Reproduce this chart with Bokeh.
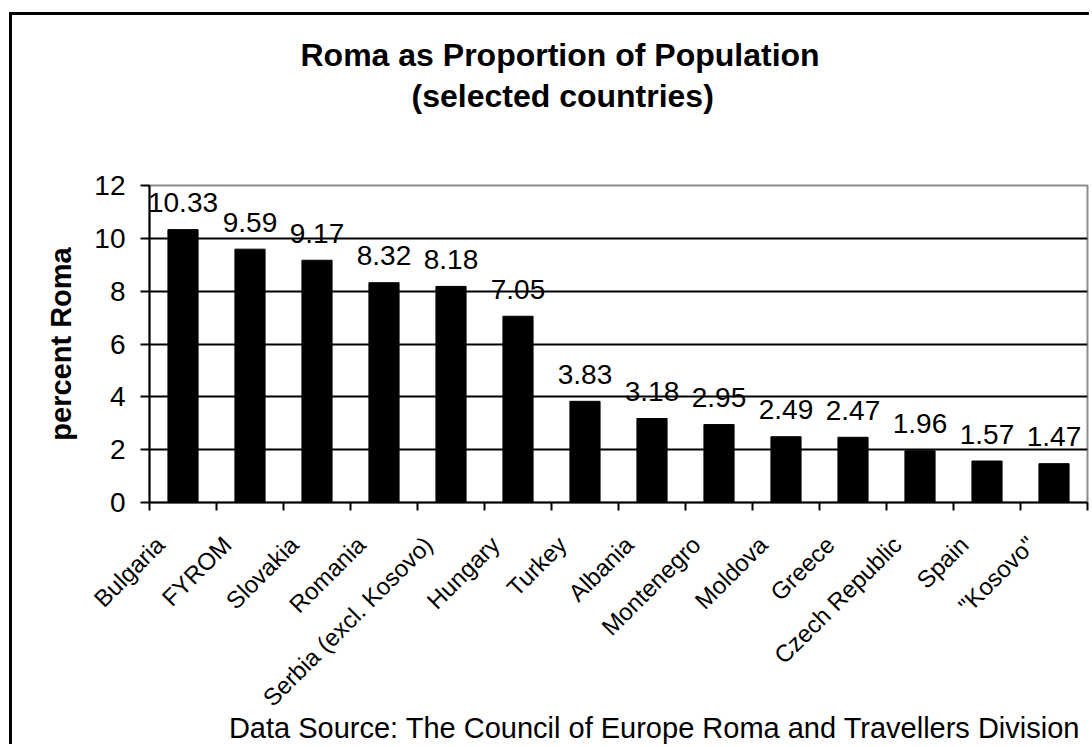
import numpy as np
from bokeh.plotting import figure
from bokeh.models import Range1d, FixedTicker, ColumnDataSource, Title
from bokeh.core.properties import value
from bokeh.embed import file_html
from bokeh.resources import INLINE

# ---- data ----
countries = ["Bulgaria", "FYROM", "Slovakia", "Romania", "Serbia (excl. Kosovo)",
             "Hungary", "Turkey", "Albania", "Montenegro", "Moldova", "Greece",
             "Czech Republic", "Spain", '"Kosovo"']
percent_roma = [10.33, 9.59, 9.17, 8.32, 8.18, 7.05, 3.83, 3.18, 2.95, 2.49, 2.47,
                1.96, 1.57, 1.47]
y_ticks = [0, 2, 4, 6, 8, 10, 12]
title_lines = ["Roma as Proportion of Population", "(selected countries)"]
y_label = "percent Roma"
source_note = "Data Source: The Council of Europe Roma and Travellers Division"

FONT = "Liberation Sans"

n = len(countries)
pos = list(range(1, n + 1))
bounds = [i - 0.5 for i in pos] + [n + 0.5]
label_shift = 0.34          # Excel-style rotated labels sit left of the bar centre
label_pos = [round(i - label_shift, 3) for i in pos]
src = ColumnDataSource(dict(x=pos, top=percent_roma,
                            label=[f"{v:.2f}" for v in percent_roma]))

p = figure(width=1080, height=732,
           x_range=Range1d(0.5, n + 0.5),
           y_range=Range1d(y_ticks[0], y_ticks[-1]),
           output_backend="svg", toolbar_location=None,
           min_border_left=137, min_border_right=5,
           min_border_top=170, min_border_bottom=245)

# outer chart border (left/top visible in the reference)
p.styles = {"margin-left": "9px", "margin-top": "12px",
            "border-left": "3px solid black", "border-top": "3px solid black"}

p.background_fill_color = "white"
p.border_fill_color = "white"
p.outline_line_color = "#8c8c8c"
p.outline_line_width = 2

# bars
p.vbar(x="x", top="top", width=0.45, source=src, color="black")

# value labels
p.text(x="x", y="top", text="label", source=src, text_align="center",
       text_baseline="alphabetic", y_offset=-27, text_color="black",
       text_font=value(FONT), text_font_size="28px")

# x axis
xa = p.xaxis[0]
xa.ticker = FixedTicker(ticks=label_pos, minor_ticks=bounds)
xa.major_label_overrides = {lp: c for lp, c in zip(label_pos, countries)}
xa.major_label_orientation = np.pi / 4
xa.major_tick_line_color = None
xa.major_tick_out = 0
xa.major_tick_in = 0
xa.minor_tick_line_color = "black"
xa.minor_tick_line_width = 2
xa.minor_tick_out = 8
xa.minor_tick_in = 0
xa.axis_line_color = "black"
xa.axis_line_width = 2
xa.major_label_text_font = FONT
xa.major_label_text_font_size = "24px"
xa.major_label_text_color = "black"
xa.major_label_standoff = 30

# y axis
ya = p.yaxis[0]
ya.ticker = FixedTicker(ticks=y_ticks)
ya.major_tick_out = 9
ya.major_tick_in = 0
ya.major_tick_line_color = "black"
ya.major_tick_line_width = 2
ya.minor_tick_line_color = None
ya.axis_line_color = "black"
ya.axis_line_width = 2
ya.major_label_text_font = FONT
ya.major_label_text_font_size = "28px"
ya.major_label_text_color = "black"
ya.major_label_standoff = 15
ya.axis_label = y_label
ya.axis_label_text_font = FONT
ya.axis_label_text_font_style = "bold"
ya.axis_label_text_font_size = "29px"
ya.axis_label_text_color = "black"
ya.axis_label_standoff = 14

# grid
p.xgrid.visible = False
p.ygrid.ticker = FixedTicker(ticks=y_ticks[1:-1])
p.ygrid.grid_line_color = "black"
p.ygrid.grid_line_width = 2

# titles: blank spacer nearest the plot, then line 2, then line 1 on top
p.add_layout(Title(text=" ", text_font=FONT, text_font_style="bold",
                   text_font_size="32px", text_color="white", standoff=34), "above")
p.add_layout(Title(text=title_lines[1], align="left", text_font=FONT,
                   text_font_style="bold", text_font_size="32px",
                   text_color="black", standoff=0, offset=262), "above")
p.add_layout(Title(text=title_lines[0], align="left", text_font=FONT,
                   text_font_style="bold", text_font_size="32px",
                   text_color="black", standoff=5, offset=151), "above")

# source note
src_title = Title(text=source_note, align="right", text_font=FONT,
                  text_font_style="normal", text_font_size="29px",
                  text_color="black", offset=7)
try:
    src_title.standoff = -28
except Exception:
    src_title.standoff = 0
p.add_layout(src_title, "below")

open("out.html", "w").write(file_html(p, INLINE))
